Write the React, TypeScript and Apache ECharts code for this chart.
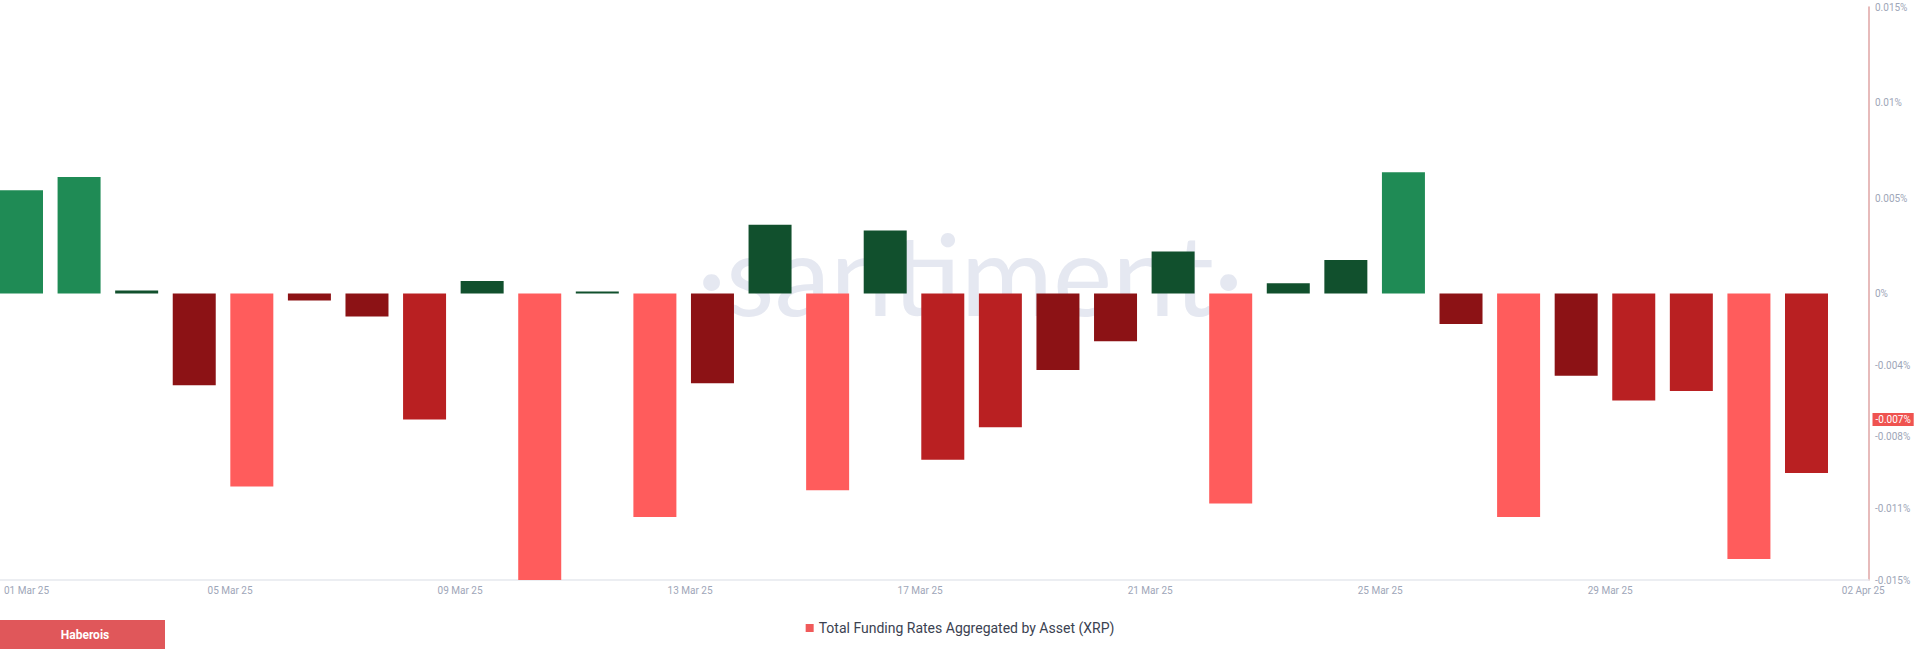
import { useEffect, useRef } from "react";
import * as echarts from "echarts";

// ---- data ----
const DAYS = [
  "01 Mar 25", "02 Mar 25", "03 Mar 25", "04 Mar 25", "05 Mar 25", "06 Mar 25", "07 Mar 25", "08 Mar 25",
  "09 Mar 25", "10 Mar 25", "11 Mar 25", "12 Mar 25", "13 Mar 25", "14 Mar 25", "15 Mar 25", "16 Mar 25",
  "17 Mar 25", "18 Mar 25", "19 Mar 25", "20 Mar 25", "21 Mar 25", "22 Mar 25", "23 Mar 25", "24 Mar 25",
  "25 Mar 25", "26 Mar 25", "27 Mar 25", "28 Mar 25", "29 Mar 25", "30 Mar 25", "31 Mar 25", "01 Apr 25",
];

// funding rate, in percent
const FUNDING = [
  0.0054, 0.0061, 0.00016, -0.0048, -0.0101, -0.00037, -0.0012, -0.0066,
  0.00065, -0.015, 0.0001, -0.0117, -0.0047, 0.0036, -0.0103, 0.0033,
  -0.0087, -0.007, -0.004, -0.0025, 0.0022, -0.011, 0.00054, 0.00175,
  0.00635, -0.0016, -0.0117, -0.0043, -0.0056, -0.0051, -0.0139, -0.0094,
];

const X_TICK_LABELS = [
  "01 Mar 25", "05 Mar 25", "09 Mar 25", "13 Mar 25", "17 Mar 25",
  "21 Mar 25", "25 Mar 25", "29 Mar 25", "02 Apr 25",
];

const Y_TICK_VALUES = [0.015, 0.01, 0.005, 0, -0.00375, -0.0075, -0.01125, -0.015];
const Y_TICK_LABELS = ["0.015%", "0.01%", "0.005%", "0%", "-0.004%", "-0.008%", "-0.011%", "-0.015%"];

const LAST_MARK = -0.0066;

const SERIES_NAME = "Total Funding Rates Aggregated by Asset (XRP)";

const COLOR_STEPS = [
  { below: -0.01, color: "#ff5c5c" },
  { below: -0.005, color: "#b92022" },
  { below: 0, color: "#8c1215" },
  { below: 0.005, color: "#11502d" },
  { below: Infinity, color: "#1f8b55" },
];

function colorFor(v: number): string {
  for (const s of COLOR_STEPS) {
    if (v < s.below) return s.color;
  }
  return COLOR_STEPS[COLOR_STEPS.length - 1].color;
}

const LABEL_COLOR = "#9ea6b8";
const FONT = "Roboto";

export default function App() {
  const ref = useRef<HTMLDivElement | null>(null);

  useEffect(() => {
    if (!ref.current) return;
    const chart = echarts.init(ref.current, undefined, { renderer: "svg" });

    const xDayCount = 32.5; // visible range of days on the label axis

    const option: any = {
      animation: false,
      backgroundColor: "#ffffff",
      textStyle: { fontFamily: FONT },
      grid: [
        { left: 0, right: 51, top: 7, bottom: 70 },
        { left: 21.5, width: 1785, top: 7, bottom: 70 },
      ],
      xAxis: [
        {
          type: "value",
          gridIndex: 0,
          min: 0,
          max: xDayCount,
          interval: 4,
          axisLine: { show: true, onZero: false, lineStyle: { color: "#e6e8ee", width: 1.5 } },
          axisTick: { show: false },
          splitLine: { show: false },
          axisLabel: {
            margin: 5,
            color: LABEL_COLOR,
            fontSize: 10,
            fontFamily: FONT,
            alignMinLabel: "left",
            showMaxLabel: false,
            formatter: (v: number) => {
              const k = Math.round(v / 4);
              if (Math.abs(v - k * 4) > 1e-6 || k < 0 || k >= X_TICK_LABELS.length) return "";
              if (k === 0) return "{f|" + X_TICK_LABELS[k] + "}";
              if (k === X_TICK_LABELS.length - 1) return "{l|" + X_TICK_LABELS[k] + "}";
              return X_TICK_LABELS[k];
            },
            rich: {
              f: { padding: [0, 0, 0, 4], color: LABEL_COLOR, fontSize: 10, fontFamily: FONT },
              l: { padding: [0, 0, 0, 46], color: LABEL_COLOR, fontSize: 10, fontFamily: FONT },
            },
          },
        },
        {
          type: "category",
          gridIndex: 1,
          data: DAYS,
          boundaryGap: false,
          show: false,
        },
      ],
      yAxis: [
        {
          type: "value",
          gridIndex: 0,
          position: "right",
          min: -0.015,
          max: 0.015,
          interval: 0.00125,
          axisLine: { show: true, onZero: false, lineStyle: { color: "#dfa4a4", width: 1.5 } },
          axisTick: { show: false },
          splitLine: { show: false },
          axisLabel: {
            margin: 6,
            color: LABEL_COLOR,
            fontSize: 10,
            fontFamily: FONT,
            formatter: (v: number) => {
              for (let i = 0; i < Y_TICK_VALUES.length; i++) {
                if (Math.abs(v - Y_TICK_VALUES[i]) < 1e-7) return Y_TICK_LABELS[i];
              }
              return "";
            },
          },
        },
        {
          type: "value",
          gridIndex: 1,
          min: -0.015,
          max: 0.015,
          show: false,
        },
      ],
      legend: {
        data: [{ name: SERIES_NAME, itemStyle: { color: "#f05a5a" } }],
        left: "center",
        top: 616,
        icon: "rect",
        itemWidth: 8,
        itemHeight: 8,
        textStyle: { fontSize: 14, color: "#3b4251", fontFamily: FONT },
        selectedMode: false,
      },
      graphic: [
        {
          type: "text",
          x: 970,
          y: 272,
          z: 0,
          silent: true,
          style: {
            text: "·santiment·",
            fontSize: 112,
            fontWeight: "normal",
            fontFamily: "Lato",
            fill: "#e5e8f1",
            align: "center",
            verticalAlign: "middle",
          },
        },
        {
          type: "rect",
          x: 0,
          y: 620,
          shape: { width: 165, height: 29 },
          style: { fill: "#e0575a" },
        },
        {
          type: "text",
          x: 85,
          y: 634.5,
          style: {
            text: "Haberois",
            fontSize: 12,
            fontWeight: "bold",
            fontFamily: FONT,
            fill: "#ffffff",
            align: "center",
            verticalAlign: "middle",
          },
        },
      ],
      series: [
        {
          type: "bar",
          name: SERIES_NAME,
          xAxisIndex: 1,
          yAxisIndex: 1,
          barWidth: 43,
          clip: false,
          data: FUNDING,
          itemStyle: { color: (p: any) => colorFor(p.value) },
          markLine: {
            silent: true,
            symbol: "none",
            precision: 6,
            lineStyle: { color: "transparent", width: 0 },
            data: [{ yAxis: LAST_MARK }],
            label: {
              position: "end",
              distance: 66,
              formatter: (p: any) => Number(p.value).toFixed(3) + "%",
              color: "#ffffff",
              backgroundColor: "#ef5350",
              padding: [2, 3, 1, 3],
              fontSize: 10,
              fontFamily: FONT,
            },
          },
        },
      ],
    };

    chart.setOption(option);
    return () => chart.dispose();
  }, []);

  return (
    <div
      ref={ref}
      style={{ position: "fixed", left: 0, top: 0, width: 1920, height: 650, background: "#fff" }}
    />
  );
}
